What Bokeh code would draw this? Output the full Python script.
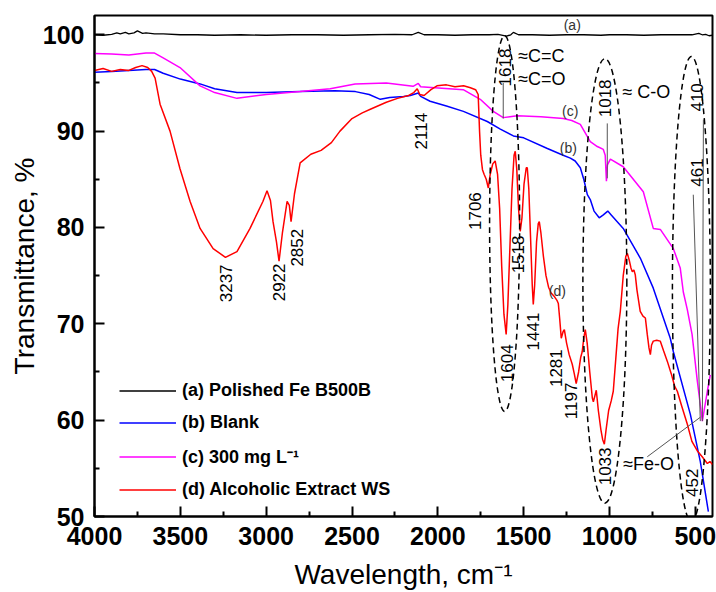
import numpy as np
from bokeh.plotting import figure
from bokeh.models import Range1d, FixedTicker, Legend, LegendItem
from bokeh.core.properties import value
from bokeh.embed import file_html
from bokeh.resources import INLINE

FONT = "Liberation Sans"

# ---------------- data ----------------
wn_a = [4000, 3950, 3900, 3870, 3850, 3820, 3800, 3770, 3750, 3720, 3700, 3650, 3600, 3500, 3400,
        3300, 3150, 3000, 2850, 2700, 2550, 2400, 2250, 2150, 2114, 2080, 2000, 1900, 1800,
        1700, 1650, 1600, 1575, 1560, 1530, 1450, 1350, 1250, 1150, 1050, 1000, 900, 800,
        700, 600, 520, 480, 460, 440, 420, 400]
t_a = [100.0, 99.95, 100.05, 100.2, 100.1, 100.25, 100.1, 100.2, 100.4, 100.15, 100.2, 100.1, 100.1,
       100.0, 100.0, 99.95, 100.0, 99.95, 100.0, 100.0, 99.95, 100.0, 100.05, 100.0, 100.25, 100.0,
       100.0, 99.95, 100.0, 100.0, 100.05, 99.85, 100.0, 100.25, 100.0, 100.0, 99.95, 100.0,
       100.0, 99.95, 100.0, 100.0, 99.95, 100.0, 100.0, 100.0, 100.15, 100.0, 100.05, 99.9, 99.95]

wn_b = [4000, 3900, 3800, 3700, 3650, 3600, 3500, 3385, 3300, 3170, 3000, 2800, 2600, 2480,
        2400, 2335, 2280, 2200, 2160, 2114, 2100, 2045, 1950, 1851, 1712, 1636, 1560, 1500,
        1362, 1270, 1228, 1200, 1170, 1150, 1129, 1112, 1090, 1060, 1036, 1010, 990, 920,
        820, 745, 646, 628, 529, 471, 424]
t_b = [96.1, 96.2, 96.3, 96.4, 96.4, 96.0, 95.4, 94.9, 94.4, 94.0, 94.0, 94.1, 94.2, 94.1,
       93.8, 93.3, 93.5, 93.6, 93.7, 93.95, 93.6, 93.1, 92.6, 92.05, 91.0, 90.2, 89.5, 89.3,
       88.2, 87.5, 87.2, 86.9, 86.2, 85.0, 83.4, 82.9, 81.7, 81.0, 81.3, 81.7, 81.3, 79.9,
       76.8, 73.7, 68.5, 67.1, 60.6, 55.7, 50.5]

wn_c = [4000, 3900, 3800, 3700, 3650, 3600, 3502, 3385, 3300, 3170, 3000, 2802, 2627, 2482,
        2300, 2144, 2114, 2100, 1852, 1753, 1677, 1619, 1537, 1400, 1269, 1220, 1170, 1112,
        1071, 1036, 1025, 1018, 1012, 995, 920, 803, 745, 704, 628, 588, 570, 547, 519,
        488, 459, 430, 413]
t_c = [98.05, 98.0, 97.9, 98.1, 98.1, 97.6, 96.6, 94.7, 94.0, 93.4, 93.8, 94.1, 94.4, 94.9,
       95.0, 94.65, 94.95, 94.6, 94.3, 93.3, 92.05, 91.4, 91.6, 91.5, 91.3, 91.1, 90.7, 88.9,
       88.4, 88.1, 87.5, 84.8, 86.5, 87.1, 86.3, 83.7, 79.9, 79.8, 77.8, 75.8, 73.3, 71.5, 68.9,
       64.0, 59.9, 63.0, 64.7]

wn_d = [4000, 3950, 3900, 3850, 3800, 3760, 3723, 3690, 3667, 3647, 3618, 3560, 3502, 3443,
        3385, 3309, 3237, 3170, 3094, 3019, 2995, 2975, 2960, 2940, 2925, 2905, 2878, 2865,
        2855, 2835, 2802, 2740, 2680, 2620, 2570, 2500, 2440, 2390, 2300, 2235, 2170, 2140,
        2120, 2105, 2080, 2040, 2005, 1950, 1900, 1850, 1810, 1780, 1765, 1757, 1750, 1740,
        1730, 1718, 1706, 1695, 1680, 1666, 1652, 1640, 1628, 1615, 1602, 1592, 1580, 1568,
        1556, 1549, 1540, 1530, 1520, 1510, 1498, 1485, 1479, 1470, 1460, 1450, 1444, 1436,
        1425, 1415, 1409, 1400, 1385, 1370, 1355, 1340, 1320, 1305, 1298, 1290, 1281, 1270,
        1263, 1250, 1235, 1217, 1205, 1194, 1180, 1168, 1159, 1150, 1141, 1130, 1115, 1100,
        1094, 1077, 1065, 1050, 1040, 1030, 1020, 1005, 990, 978, 965, 950, 937, 920, 905,
        896, 885, 875, 867, 858, 850, 840, 821, 805, 791, 780, 770, 762, 755, 745, 725, 704,
        685, 663, 640, 620, 605, 580, 547, 520, 488, 460, 430, 415, 400]
t_d = [96.3, 96.5, 96.2, 96.4, 96.3, 96.6, 96.8, 96.6, 96.2, 95.5, 92.8, 90.0, 86.1, 82.7,
       79.9, 77.8, 76.9, 77.5, 79.9, 82.7, 83.8, 82.8, 80.6, 78.5, 76.5, 79.5, 82.7, 82.3,
       80.6, 83.5, 86.7, 87.6, 88.0, 88.8, 90.0, 91.3, 91.9, 92.3, 93.0, 93.4, 93.7, 94.0,
       94.4, 93.8, 93.7, 94.3, 94.7, 94.8, 94.6, 94.7, 94.5, 94.3, 93.8, 90.0, 87.5, 86.0,
       85.5, 85.0, 84.1, 85.5, 86.6, 86.9, 85.5, 82.0, 76.0, 71.0, 68.9, 72.0, 78.0, 84.0,
       87.5, 87.9, 86.0, 82.0, 79.6, 81.0, 84.5, 86.2, 86.2, 84.0, 79.0, 74.0, 72.0, 74.0,
       78.5, 80.4, 80.6, 79.5, 77.0, 75.0, 73.8, 73.2, 72.8, 72.4, 72.1, 70.5, 68.5, 69.2,
       69.4, 68.0, 66.8, 65.8, 64.8, 63.8, 65.0, 66.5, 67.1, 68.5, 69.4, 68.0, 65.0, 62.3,
       61.9, 63.1, 61.0, 59.0, 58.0, 57.5, 59.0, 61.0, 62.0, 63.0, 66.0, 69.5, 71.3, 75.0, 77.0,
       77.3, 76.6, 75.8, 75.4, 75.6, 75.1, 73.5, 71.3, 70.8, 70.6, 68.9, 67.5, 66.8, 67.8, 68.2,
       68.3, 68.2, 67.2, 66.1, 64.8, 63.5, 63.0, 61.5, 59.6, 57.8, 56.8, 56.2, 55.5, 55.7, 55.4]

legend_labels = ["(a) Polished Fe B500B", "(b) Blank", "(c) 300 mg L\u207b\u00b9",
                 "(d) Alcoholic Extract WS"]
series_colors = ["black", "#0000FF", "#FF00FF", "#FF0000"]

# rotated peak labels
peak_text = ["3237", "2922", "2852", "2114", "1706", "1618", "1518", "1441", "1604",
             "1281", "1197", "1033", "1018", "410", "461", "452"]
peak_x = [3233, 2925, 2820, 2097, 1782, 1607, 1532, 1444, 1596, 1310, 1222, 1025, 1025,
          488, 488, 517]
peak_y = [74.2, 74.3, 77.9, 90.0, 81.7, 96.6, 77.2, 69.2, 65.9, 65.4, 62.0, 55.2, 93.4,
          93.5, 85.7, 53.5]

# curve tags
tag_text = ["(a)", "(c)", "(b)", "(d)"]
tag_x = [1217, 1229, 1240, 1304]
tag_y = [101.0, 92.05, 88.2, 73.4]

# group annotations
grp_text = ["\u2248C=C", "\u2248C=O", "\u2248 C-O", "\u2248Fe-O"]
grp_x = [1532, 1532, 925, 920]
grp_y = [97.8, 95.4, 94.1, 55.4]

# leader lines
lead_x0 = [1619, 1013, 453, 512, 780]
lead_y0 = [95.0, 90.8, 91.2, 83.4, 56.2]
lead_x1 = [1619, 1013, 459, 471, 471]
lead_y1 = [91.3, 85.1, 59.9, 59.9, 60.3]

# dashed ellipses
ell_x = [1611, 1027, 523]
ell_y = [80.4, 74.45, 73.6]
ell_w = [175, 256, 221]
ell_h = [39.0, 46.2, 48.3]

x_major = [4000, 3500, 3000, 2500, 2000, 1500, 1000, 500]
x_minor = [3750, 3250, 2750, 2250, 1750, 1250, 750]
y_major = [50, 60, 70, 80, 90, 100]
y_minor = [55, 65, 75, 85, 95]

# ---------------- figure ----------------
p = figure(width=716, height=592, x_range=Range1d(4000, 400), y_range=Range1d(50, 102),
           output_backend="svg", toolbar_location=None,
           min_border_left=94, min_border_right=4, min_border_top=15, min_border_bottom=76)
p.xgrid.visible = False
p.ygrid.visible = False
p.outline_line_color = "black"
p.outline_line_width = 2
p.background_fill_color = "white"
p.border_fill_color = "white"

for ax in (p.xaxis[0], p.yaxis[0]):
    ax.axis_line_width = 2
    ax.major_tick_line_width = 2
    ax.minor_tick_line_width = 2
    ax.major_tick_in = 10
    ax.major_tick_out = 0
    ax.minor_tick_in = 5
    ax.minor_tick_out = 0
    ax.major_label_text_font = FONT
    ax.major_label_text_font_style = "bold"
    ax.major_label_text_font_size = "25px"
    ax.major_label_text_color = "black"
    ax.axis_label_text_font = FONT
    ax.axis_label_text_font_style = "normal"
    ax.axis_label_text_font_size = "28px"
    ax.axis_label_text_color = "black"

p.xaxis.ticker = FixedTicker(ticks=x_major, minor_ticks=x_minor)
p.yaxis.ticker = FixedTicker(ticks=y_major, minor_ticks=y_minor)
p.xaxis.axis_label = "Wavelength, cm\u207b\u00b9"
p.yaxis.axis_label = "Transmittance, %"
p.xaxis.major_label_standoff = 10
p.yaxis.major_label_standoff = 10
p.xaxis.axis_label_standoff = 11
p.yaxis.axis_label_standoff = 0

# curves
ra = p.line(wn_a, t_a, line_color=series_colors[0], line_width=1.3)
rb = p.line(wn_b, t_b, line_color=series_colors[1], line_width=1.5)
rc = p.line(wn_c, t_c, line_color=series_colors[2], line_width=1.5)
rd = p.line(wn_d, t_d, line_color=series_colors[3], line_width=1.5)

# dashed ellipses
p.ellipse(x=ell_x, y=ell_y, width=ell_w, height=ell_h, fill_color=None,
          line_color="black", line_dash="6 4", line_width=1.5)

# leader lines
p.segment(x0=lead_x0, y0=lead_y0, x1=lead_x1, y1=lead_y1, line_color="#555555",
          line_width=1)

# peak labels
p.text(x=peak_x, y=peak_y, text=peak_text, angle=np.pi / 2, text_font=value(FONT),
       text_font_size="17px", text_align="center", text_baseline="middle",
       text_color="black")
p.text(x=tag_x, y=tag_y, text=tag_text, text_font=value(FONT), text_font_size="14px",
       text_align="center", text_baseline="middle", text_color="#333333")
p.text(x=grp_x, y=grp_y, text=grp_text, text_font=value(FONT), text_font_size="18px",
       text_align="left", text_baseline="middle", text_color="black")

legend = Legend(items=[LegendItem(label=legend_labels[i], renderers=[r])
                       for i, r in enumerate([ra, rb, rc, rd])],
                location=(25, 16))
legend.padding = 0
legend.margin = 0
legend.spacing = 11
legend.glyph_width = 57
legend.glyph_height = 21
legend.label_height = 21
legend.label_standoff = 6
legend.label_text_font = FONT
legend.label_text_font_style = "bold"
legend.label_text_font_size = "18px"
legend.label_text_color = "black"
legend.border_line_color = None
legend.background_fill_alpha = 0
p.add_layout(legend)

open("out.html", "w").write(file_html(p, INLINE))
